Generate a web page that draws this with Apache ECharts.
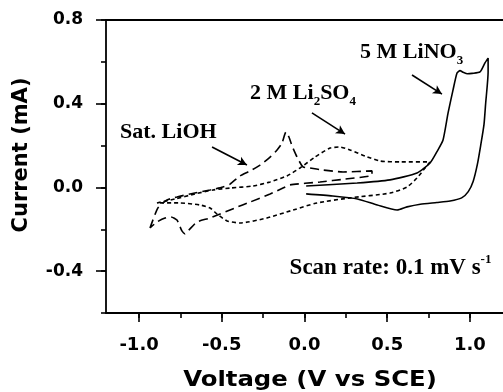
<!DOCTYPE html>
<html><head><meta charset="utf-8">
<script src="https://cdn.jsdelivr.net/npm/echarts@6/dist/echarts.min.js"></script>
<style>html,body{margin:0;padding:0;background:#fff}#c{width:503px;height:392px}</style>
</head><body><div id="c"></div>
<script>
// ---- data ----
const xTickValues = [-1.0, -0.5, 0.0, 0.5, 1.0];
const yTickValues = [-0.4, 0.0, 0.4, 0.8];
const xTitle = 'Voltage (V vs SCE)';
const yTitle = 'Current (mA)';

// 5 M LiNO3 (solid)
const lino3 = [[0.01,0.007],[0.318,0.021],[0.517,0.036],[0.68,0.069],[0.759,0.117],[0.80,0.17],[0.837,0.225],[0.868,0.356],[0.898,0.466],[0.922,0.547],[0.94,0.558],[0.96,0.55],[0.985,0.543],[1.013,0.545],[1.061,0.552],[1.091,0.595],[1.11,0.618],[1.11,0.55],[1.095,0.40],[1.085,0.30],[1.065,0.20],[1.045,0.11],[1.02,0.03],[0.99,-0.02],[0.95,-0.05],[0.88,-0.065],[0.80,-0.072],[0.70,-0.08],[0.62,-0.093],[0.56,-0.108],[0.44,-0.084],[0.32,-0.055],[0.17,-0.041],[0.01,-0.031]];
// 2 M Li2SO4 (dotted)
const li2so4 = [[-0.892,-0.074],[-0.783,-0.055],[-0.662,-0.031],[-0.553,-0.012],[-0.45,-0.003],[-0.311,0.007],[-0.208,0.026],[-0.106,0.055],[-0.027,0.093],[0.063,0.145],[0.154,0.188],[0.215,0.193],[0.275,0.179],[0.366,0.15],[0.457,0.126],[0.578,0.122],[0.759,0.122],[0.729,0.093],[0.68,0.045],[0.62,0.002],[0.517,-0.027],[0.275,-0.05],[0.076,-0.074],[-0.069,-0.108],[-0.227,-0.146],[-0.39,-0.17],[-0.468,-0.16],[-0.529,-0.127],[-0.571,-0.098],[-0.632,-0.084],[-0.753,-0.074],[-0.892,-0.074]];
// Sat. LiOH (dashed)
const lioh = [[-0.934,-0.194],[-0.886,-0.098],[-0.831,-0.06],[-0.771,-0.046],[-0.692,-0.031],[-0.571,-0.012],[-0.493,0.002],[-0.45,0.016],[-0.39,0.055],[-0.329,0.079],[-0.269,0.107],[-0.208,0.145],[-0.166,0.179],[-0.136,0.212],[-0.112,0.265],[-0.094,0.241],[-0.075,0.198],[-0.045,0.145],[-0.009,0.098],[0.033,0.093],[0.112,0.083],[0.233,0.074],[0.408,0.079],[0.408,0.059],[0.245,0.04],[0.094,0.026],[-0.088,0.012],[-0.13,-0.003],[-0.208,-0.031],[-0.329,-0.07],[-0.42,-0.098],[-0.571,-0.146],[-0.65,-0.165],[-0.698,-0.203],[-0.722,-0.222],[-0.741,-0.208],[-0.771,-0.156],[-0.807,-0.141],[-0.843,-0.146],[-0.892,-0.165],[-0.934,-0.194]];

// annotation arrows (data coords: from, to)
const arrows = [
  [[-0.559,0.193],[-0.348,0.107]],
  [[0.045,0.356],[0.245,0.255]],
  [[0.65,0.537],[0.831,0.446]]
];
// annotation texts, anchored left-middle at data coords
const notes = [
  {rich:'{a|Sat. LiOH}', at:[-1.115,0.265]},
  {rich:'{a|2 M Li}{s|2}{a|SO}{s|4}', at:[-0.329,0.451]},
  {rich:'{a|5 M LiNO}{s|3}', at:[0.336,0.647]},
  {rich:'{b|Scan rate: 0.1 mV s}{p|-1}', at:[-0.09,-0.385]}
];

const chart = echarts.init(document.getElementById('c'), null, {renderer:'canvas'});
const black = '#000';
const sans = 'DejaVu Sans';
const serif = 'Liberation Serif';
const hidden = {show:false};

const option = {
  animation:false,
  backgroundColor:'#fff',
  grid:[
    {left:106, right:0, top:20, height:293},
    {left:139.08, width:330.84, top:20, height:293},
    {left:139.08, width:330.84, top:20, height:293},
    {left:106, right:0, top:20, height:251.15}
  ],
  xAxis:[
    {gridIndex:0, type:'value', min:-1.2, max:1.2, axisLine:{show:true, onZero:false, lineStyle:{color:black,width:1.8}}, axisTick:hidden, axisLabel:hidden, splitLine:hidden},
    {gridIndex:0, type:'value', position:'top', min:-1.2, max:1.2, axisLine:{show:true, onZero:false, lineStyle:{color:black,width:1.8}}, axisTick:hidden, axisLabel:hidden, splitLine:hidden},
    {gridIndex:1, type:'value', min:-1, max:1, interval:0.5, axisLine:{show:false,onZero:false}, axisTick:{show:true, length:9, lineStyle:{color:black,width:1.6}}, axisLabel:{show:true, margin:23, color:black, fontFamily:sans, fontWeight:'bold', fontSize:18, formatter:v=>v.toFixed(1)}, splitLine:hidden},
    {gridIndex:2, type:'value', min:-1, max:1, interval:0.25, axisLine:{show:false,onZero:false}, axisTick:{show:true, length:5, lineStyle:{color:black,width:1.6}}, axisLabel:hidden, splitLine:hidden},
    {gridIndex:3, type:'value', min:-1.2, max:1.2, show:false}
  ],
  yAxis:[
    {gridIndex:0, type:'value', min:-0.6, max:0.8, interval:0.2, axisLine:{show:true,onZero:false,lineStyle:{color:black,width:1.8}}, axisTick:{show:true,length:5,lineStyle:{color:black,width:1.6}}, axisLabel:hidden, splitLine:hidden},
    {gridIndex:1, type:'value', min:-0.6, max:0.8, show:false},
    {gridIndex:2, type:'value', min:-0.6, max:0.8, show:false},
    {gridIndex:3, type:'value', min:-0.4, max:0.8, interval:0.4, axisLine:{show:false,onZero:false}, axisTick:{show:true,length:10,lineStyle:{color:black,width:1.6}}, axisLabel:{show:true, margin:23, color:black, fontFamily:sans, fontWeight:'bold', fontSize:17, formatter:v=>v.toFixed(1)}, splitLine:hidden}
  ],
  series:[
    {type:'line', xAxisIndex:0, yAxisIndex:0, data:lino3, showSymbol:false, smooth:0.2, lineStyle:{color:black,width:1.6,type:'solid'},
      markLine:{silent:true, symbol:['none','arrow'], symbolSize:[7,9], label:{show:false}, lineStyle:{color:black,width:1.6,type:'solid'},
        data: arrows.map(a=>[{coord:a[0]},{coord:a[1]}])}},
    {type:'line', xAxisIndex:0, yAxisIndex:0, data:li2so4, showSymbol:false, smooth:0.2, lineStyle:{color:black,width:1.6,type:[4,3]}},
    {type:'line', xAxisIndex:0, yAxisIndex:0, data:lioh, showSymbol:false, smooth:0.2, lineStyle:{color:black,width:1.6,type:[9,5]}}
  ]
};
chart.setOption(option);

const richStyles = {
  a:{fontFamily:serif, fontWeight:'bold', fontSize:22, lineHeight:31, color:black},
  b:{fontFamily:serif, fontWeight:'bold', fontSize:23, lineHeight:29, color:black},
  s:{fontFamily:serif, fontWeight:'bold', fontSize:13, lineHeight:14, verticalAlign:'bottom', color:black},
  p:{fontFamily:serif, fontWeight:'bold', fontSize:13, lineHeight:14, verticalAlign:'top', color:black}
};
const graphics = notes.map(n=>{
  const p = chart.convertToPixel({gridIndex:0}, n.at);
  return {type:'text', x:p[0], y:p[1], style:{text:n.rich, rich:richStyles, align:'left', verticalAlign:'middle', fill:black}};
});
graphics.push({type:'text', x:310, y:381, scaleX:1.16, style:{text:xTitle, font:'bold 21px "DejaVu Sans"', fill:black, align:'center', verticalAlign:'middle'}});
graphics.push({type:'text', x:22, y:155, rotation:Math.PI/2, style:{text:yTitle, font:'bold 21px "DejaVu Sans"', fill:black, align:'center', verticalAlign:'middle'}});
chart.setOption({graphic:graphics});
</script></body></html>
